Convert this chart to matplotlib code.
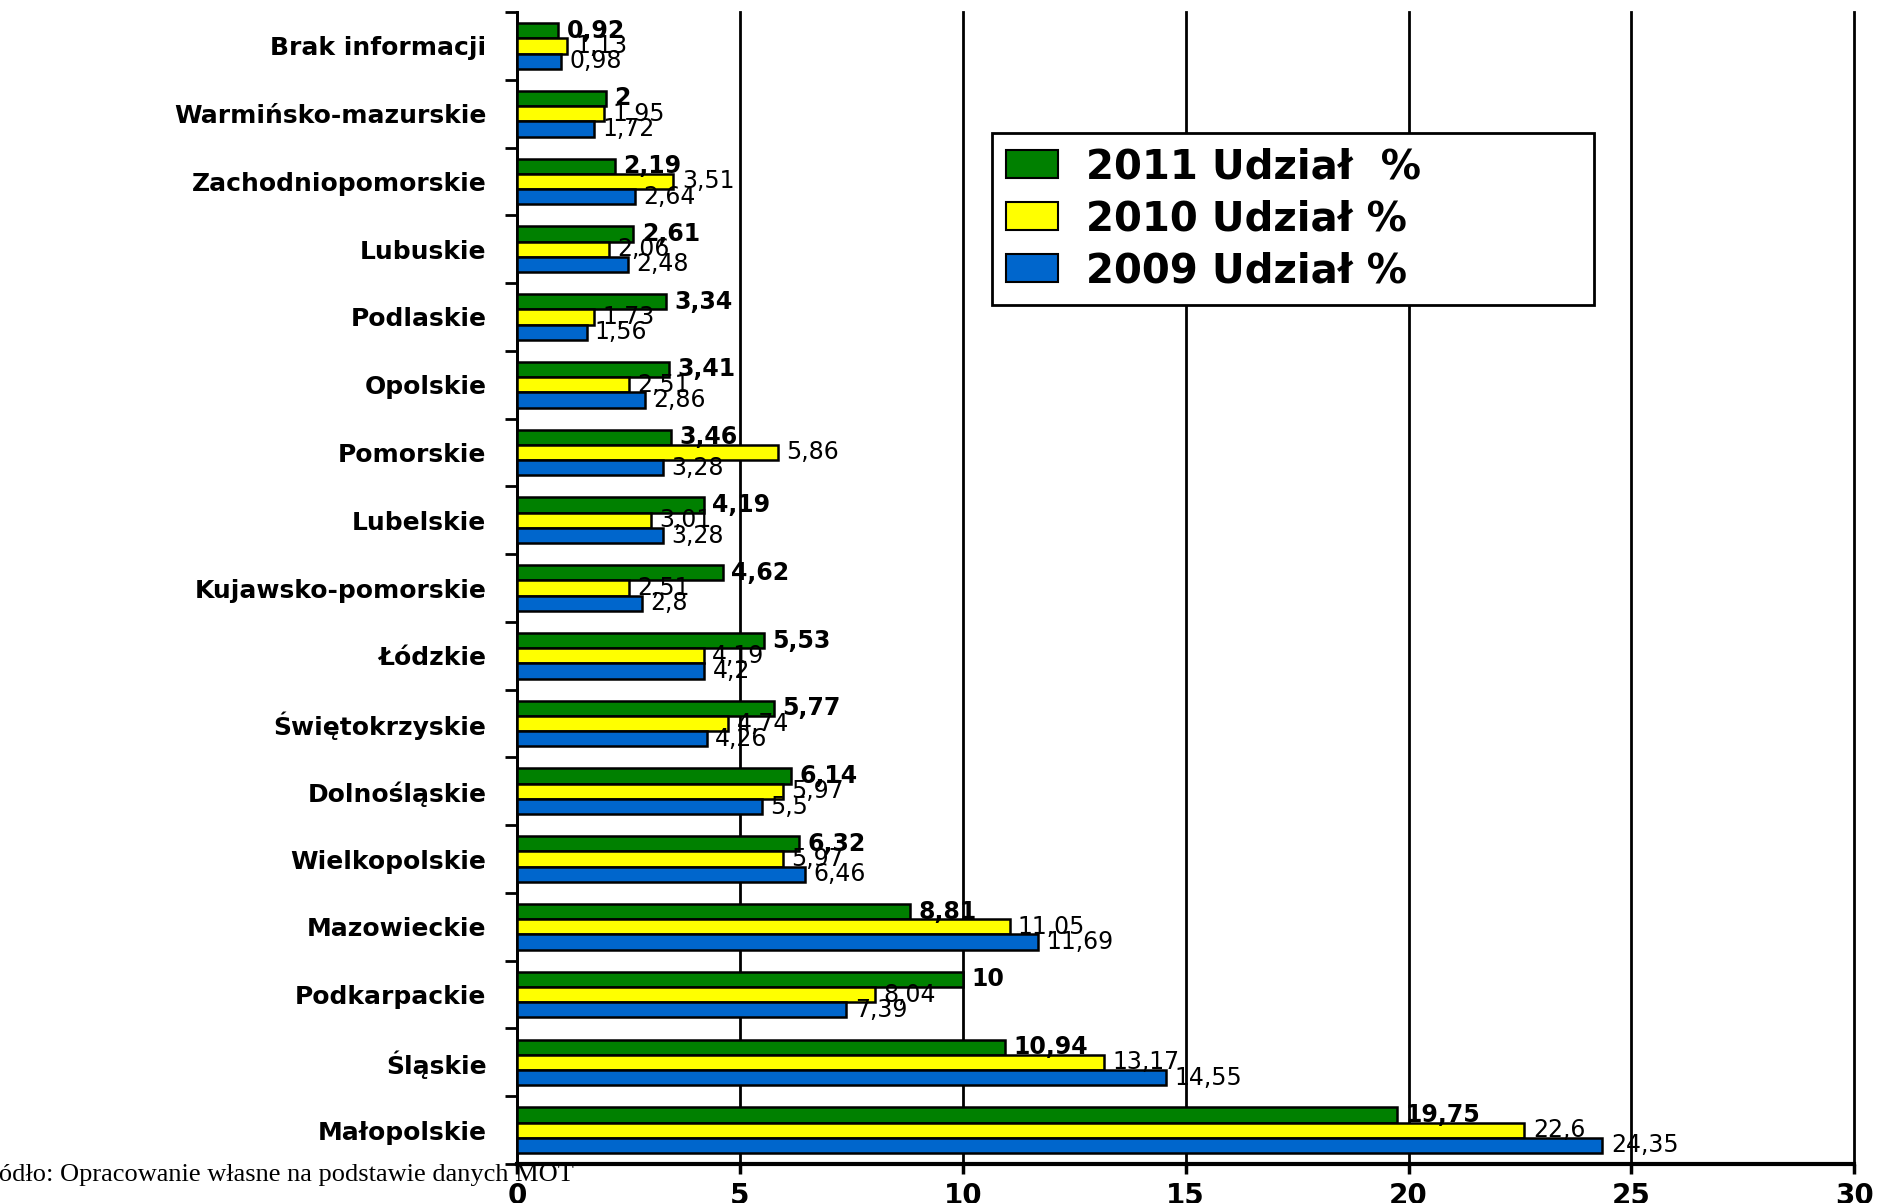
import numpy as np
import matplotlib
matplotlib.use("Agg")
import matplotlib.pyplot as plt
from matplotlib.patches import Patch

# kategorie od dołu do góry
regions = ["Małopolskie", "Śląskie", "Podkarpackie", "Mazowieckie", "Wielkopolskie",
           "Dolnośląskie", "Świętokrzyskie", "Łódzkie", "Kujawsko-pomorskie", "Lubelskie",
           "Pomorskie", "Opolskie", "Podlaskie", "Lubuskie", "Zachodniopomorskie",
           "Warmińsko-mazurskie", "Brak informacji"]
share_2011 = [19.75, 10.94, 10, 8.81, 6.32, 6.14, 5.77, 5.53, 4.62, 4.19, 3.46, 3.41, 3.34, 2.61, 2.19, 2, 0.92]
share_2010 = [22.6, 13.17, 8.04, 11.05, 5.97, 5.97, 4.74, 4.19, 2.51, 3.01, 5.86, 2.51, 1.73, 2.06, 3.51, 1.95, 1.13]
share_2009 = [24.35, 14.55, 7.39, 11.69, 6.46, 5.5, 4.26, 4.2, 2.8, 3.28, 3.28, 2.86, 1.56, 2.48, 2.64, 1.72, 0.98]
series_names = ["2011 Udział  %", "2010 Udział %", "2009 Udział %"]
x_ticks = [0, 5, 10, 15, 20, 25, 30]
source = "Źródło: Opracowanie własne na podstawie danych MOT"

colors = ["#008000", "#FFFF00", "#0066CC"]


def fmt(v):
    return f"{v:g}".replace(".", ",")


fig = plt.figure(figsize=(18.96, 12.03), dpi=100)
ax = fig.add_axes([0.2727, 0.0324, 0.7053, 0.9576])

y = np.arange(len(regions))
h = 0.225
for k, (vals, col) in enumerate(zip([share_2011, share_2010, share_2009], colors)):
    pos = y + (1 - k) * h
    ax.barh(pos, vals, height=h, color=col, edgecolor="black", linewidth=1.8, zorder=3)
    for p, v in zip(pos, vals):
        ax.annotate(fmt(v), (v, p), xytext=(6, 0), textcoords="offset points",
                    ha="left", va="center", fontsize=17,
                    fontweight="bold" if k == 0 else "normal", zorder=4)

ax.set_xlim(0, 30)
ax.set_ylim(-0.5, len(regions) - 0.5)
ax.set_xticks(x_ticks)
ax.set_xticklabels([str(t) for t in x_ticks], fontsize=20, fontweight="heavy")
ax.set_yticks(y)
ax.set_yticklabels(regions, fontsize=18, fontweight="bold")
ax.set_yticks(np.arange(-0.5, len(regions), 1.0), minor=True)
ax.tick_params(axis="y", which="major", length=0, pad=22)
ax.tick_params(axis="y", which="minor", length=9, width=2, direction="out")
ax.tick_params(axis="x", length=7, width=2.5, direction="out", pad=6)

ax.grid(axis="x", color="black", linewidth=2, zorder=0)
for gl in ax.get_xgridlines():
    gl.set_clip_on(False)
ax.spines["top"].set_visible(False)
ax.spines["right"].set_visible(False)
ax.spines["left"].set_linewidth(2)
ax.spines["bottom"].set_linewidth(3)

handles = [Patch(facecolor=c, edgecolor="black", linewidth=1.5) for c in colors]
leg = ax.legend(handles, series_names, loc="upper left",
                bbox_to_anchor=(0.355, 0.755, 0.45, 0.14), mode="expand", borderaxespad=0,
                prop={"size": 29, "weight": "bold"}, fancybox=False, framealpha=1,
                edgecolor="black", handlelength=1.3, handleheight=0.7, labelspacing=0.3,
                borderpad=0.35, handletextpad=0.7)
leg.get_frame().set_linewidth(2)
leg.set_zorder(5)

fig.text(-0.0135, 0.025, source, family="Liberation Serif", fontsize=19, ha="left", va="center")

fig.savefig("out.png", dpi=100)
